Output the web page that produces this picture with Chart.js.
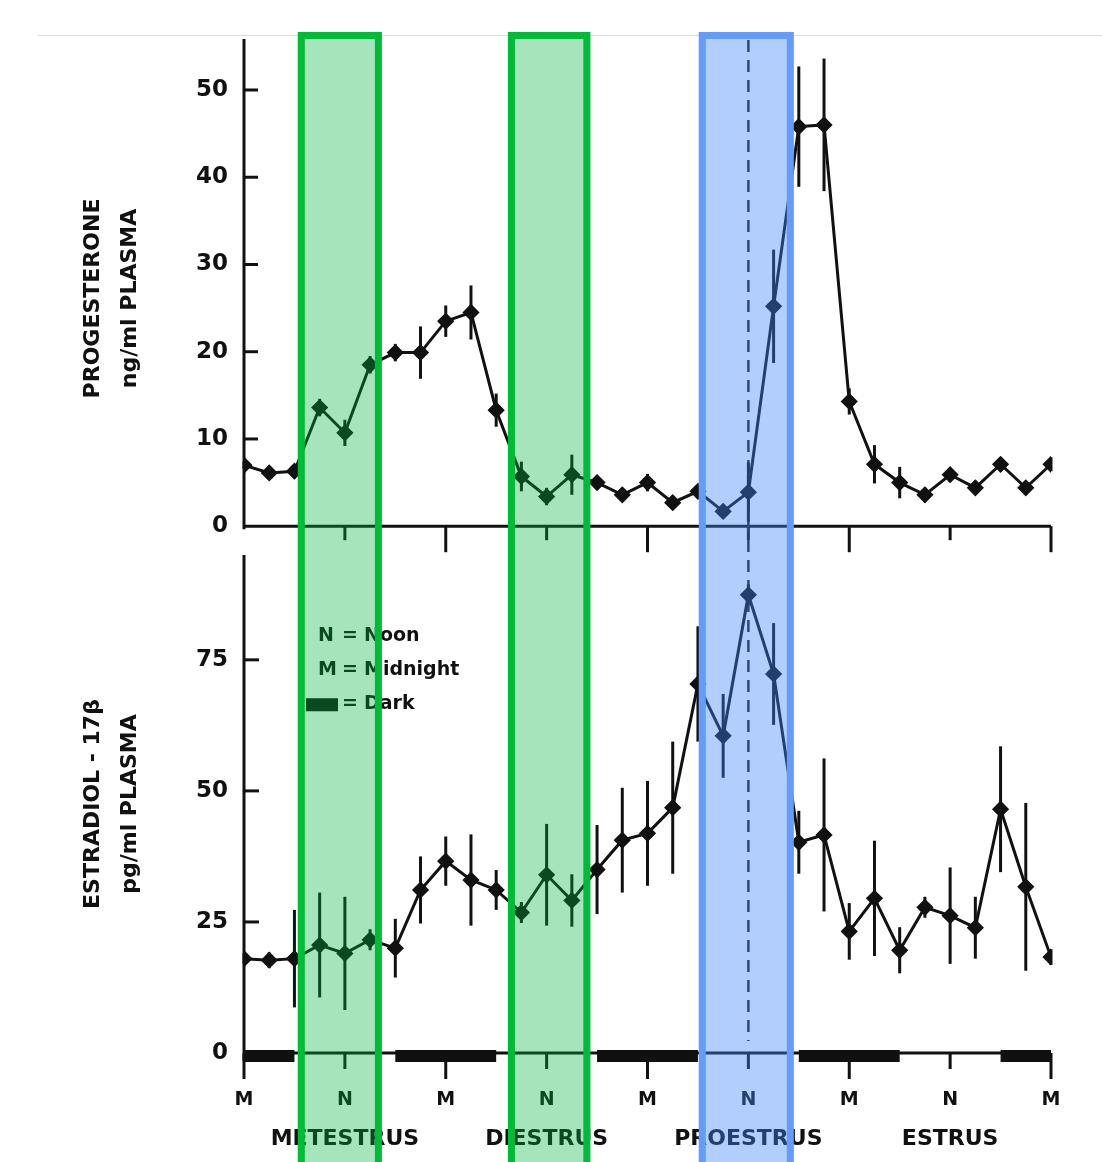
<!DOCTYPE html>
<html lang="en">
<head>
<meta charset="UTF-8">
<title>Progesterone and Estradiol over the estrous cycle</title>
<script src="https://cdn.jsdelivr.net/npm/chart.js"></script>
<style>
  body { margin: 0; background: #fff; }
  canvas { display: block; }
</style>
</head>
<body>
<canvas id="chart" width="1102" height="1162"></canvas>
<script>
// sampling times (hours from the first midnight)
const hours = [0, 3, 6, 9, 12, 15, 18, 21, 24, 27, 30, 33, 36, 39, 42, 45, 48,
               51, 54, 57, 60, 63, 66, 69, 72, 75, 78, 81, 84, 87, 90, 93, 96];

const progesterone = [7.0, 6.1, 6.3, 13.6, 10.7, 18.5, 19.9, 19.9, 23.5, 24.5, 13.3, 5.7, 3.4, 5.9, 5.0, 3.6, 5.0,
                      2.7, 4.0, 1.7, 3.9, 25.2, 45.8, 46.0, 14.3, 7.1, 5.0, 3.6, 5.9, 4.4, 7.1, 4.4, 7.1];
const progesteroneErr = [0.4, 0.5, 0.8, 1.0, 1.5, 1.0, 1.0, 3.0, 1.8, 3.1, 1.9, 1.7, 1.0, 2.3, 0.6, 0.6, 1.0,
                         0.6, 0.6, 0.6, 3.4, 6.5, 6.9, 7.6, 1.5, 2.2, 1.8, 0.8, 0.8, 0.8, 0.8, 0.8, 0.8];

const estradiol = [18.0, 17.7, 18.0, 20.6, 19.0, 21.6, 20.0, 31.1, 36.6, 33.0, 31.1, 26.8, 34.0, 29.1, 35.0, 40.6, 41.9,
                   46.8, 70.4, 60.5, 87.4, 72.3, 40.2, 41.6, 23.2, 29.5, 19.6, 27.8, 26.2, 23.9, 46.5, 31.7, 18.3];
const estradiolErr = [1.0, 1.5, 9.3, 10.0, 10.8, 2.0, 5.6, 6.4, 4.7, 8.7, 3.8, 2.0, 9.7, 5.0, 8.5, 10.0, 10.0,
                      12.6, 11.0, 8.0, 2.0, 9.7, 6.0, 14.6, 5.4, 11.0, 4.4, 2.0, 9.2, 5.9, 12.0, 16.0, 1.5];

const timeTicks = [0, 12, 24, 36, 48, 60, 72, 84, 96];
const timeLabels = ['M', 'N', 'M', 'N', 'M', 'N', 'M', 'N', 'M'];
const phaseCenters = [12, 36, 60, 84];
const phaseNames = ['METESTRUS', 'DIESTRUS', 'PROESTRUS', 'ESTRUS'];
const progTicks = [0, 10, 20, 30, 40, 50];
const estrTicks = [0, 25, 50, 75];

// lights-off periods (hours)
const darkStart = [0, 18, 42, 66, 90];
const darkEnd = [6, 30, 54, 78, 96];

// highlighted windows (hours)
const bandStart = [6.4, 31.4, 54.1];
const bandEnd = [16.4, 41.2, 65.4];
const bandKind = ['green', 'green', 'blue'];

const LH = 60; // proestrus noon marker

const FONT = 'DejaVu Sans, Liberation Sans, sans-serif';
const INK = '#111';

function line(ctx, x1, y1, x2, y2) {
  ctx.beginPath();
  ctx.moveTo(x1, y1);
  ctx.lineTo(x2, y2);
  ctx.stroke();
}

const figurePlugin = {
  id: 'figure',
  beforeDraw(chart) {
    const ctx = chart.ctx;
    ctx.save();
    ctx.strokeStyle = '#dcdcdc';
    ctx.lineWidth = 1;
    line(ctx, 38, 35.5, chart.width, 35.5);
    ctx.restore();
  },
  beforeDatasetsDraw(chart) {
    const { ctx, scales: { x, yP, yE } } = chart;
    const xa = x.getPixelForValue(0), xb = x.getPixelForValue(96);
    const p0 = yP.getPixelForValue(0), e0 = yE.getPixelForValue(0);
    ctx.save();
    ctx.strokeStyle = INK;
    ctx.fillStyle = INK;
    ctx.lineWidth = 3;

    // axes
    line(ctx, xa, yP.top - 3, xa, p0 + 3);
    line(ctx, xa, yE.top, xa, e0 + 8);
    line(ctx, xa, p0, xb, p0);
    line(ctx, xa, e0, xb, e0);

    // time ticks on both panels
    timeTicks.forEach((v, i) => {
      const px = x.getPixelForValue(v);
      const isM = timeLabels[i] === 'M';
      if (i > 0) line(ctx, px, p0, px, p0 + (isM ? 26 : 14));
      line(ctx, px, e0, px, e0 + (isM ? 26 : 16));
    });

    // value ticks (inward)
    progTicks.forEach(v => { if (v > 0) line(ctx, xa, yP.getPixelForValue(v), xa + 14, yP.getPixelForValue(v)); });
    estrTicks.forEach(v => { if (v > 0) line(ctx, xa, yE.getPixelForValue(v), xa + 15, yE.getPixelForValue(v)); });

    // dark bars along the lower time axis
    darkStart.forEach((s, i) => {
      const l = x.getPixelForValue(s), r = x.getPixelForValue(darkEnd[i]);
      ctx.fillRect(l, e0 - 3, r - l, 12);
    });

    // dashed line at proestrus noon
    ctx.save();
    ctx.setLineDash([12, 8]);
    ctx.lineWidth = 2.5;
    ctx.strokeStyle = '#222';
    const lx = x.getPixelForValue(LH);
    line(ctx, lx, yP.top - 2, lx, e0 - 12);
    ctx.restore();

    // error bars
    chart.data.datasets.forEach((ds, di) => {
      const meta = chart.getDatasetMeta(di);
      const sc = chart.scales[ds.yAxisID];
      ds.errors.forEach((err, j) => {
        const px = meta.data[j].x;
        line(ctx, px, sc.getPixelForValue(ds.data[j] + err), px, sc.getPixelForValue(ds.data[j] - err));
      });
    });

    // key
    ctx.font = 'bold 19px ' + FONT;
    ctx.textBaseline = 'middle';
    const ky = yE.getPixelForValue(79.5);
    const kx = xa + 74;
    ctx.textAlign = 'left';
    ctx.fillText('N', kx, ky);
    ctx.fillText('M', kx, ky + 34);
    ctx.fillRect(xa + 62, ky + 62, 32, 13);
    ctx.textAlign = 'center';
    ['=', '=', '='].forEach((t, i) => ctx.fillText(t, kx + 32, ky + 34 * i));
    ctx.textAlign = 'left';
    ctx.fillText('Noon', kx + 46, ky);
    ctx.fillText('Midnight', kx + 46, ky + 34);
    ctx.fillText('Dark', kx + 46, ky + 68);
    ctx.restore();
  },
  afterDraw(chart) {
    const { ctx, scales: { x } } = chart;
    ctx.save();
    bandStart.forEach((s, i) => {
      const l = x.getPixelForValue(s), r = x.getPixelForValue(bandEnd[i]);
      const green = bandKind[i] === 'green';
      ctx.fillStyle = green ? 'rgba(0, 181, 60, 0.35)' : 'rgba(60, 132, 247, 0.4)';
      ctx.fillRect(l, 32, r - l, chart.height);
      ctx.strokeStyle = green ? '#00bb38' : '#659cfb';
      ctx.lineWidth = 7;
      ctx.strokeRect(l + 3.5, 35.5, r - l - 7, chart.height + 20);
    });
    ctx.restore();
  }
};

const tickFont = { family: FONT, size: 23, weight: 'bold' };
const titleFont = { family: FONT, size: 22, weight: 'bold', lineHeight: 37 / 22 };

new Chart(document.getElementById('chart'), {
  type: 'line',
  data: {
    labels: hours,
    datasets: [
      {
        label: 'Progesterone',
        data: progesterone,
        errors: progesteroneErr,
        yAxisID: 'yP',
        borderColor: INK,
        backgroundColor: INK,
        borderWidth: 3,
        pointStyle: 'rectRot',
        pointRadius: 6.5,
        tension: 0
      },
      {
        label: 'Estradiol-17β',
        data: estradiol,
        errors: estradiolErr,
        yAxisID: 'yE',
        borderColor: INK,
        backgroundColor: INK,
        borderWidth: 3,
        pointStyle: 'rectRot',
        pointRadius: 6.5,
        tension: 0
      }
    ]
  },
  options: {
    responsive: false,
    animation: false,
    layout: { padding: { top: 42, right: 51, left: 0, bottom: 0 } },
    plugins: { legend: { display: false }, tooltip: { enabled: false } },
    scales: {
      x: {
        type: 'linear', position: 'bottom', min: 0, max: 96,
        grid: { display: false }, border: { display: false },
        afterBuildTicks: s => { s.ticks = timeTicks.map(v => ({ value: v })); },
        ticks: {
          autoSkip: false, maxRotation: 0, padding: 28, color: INK,
          font: { family: FONT, size: 19, weight: 'bold' },
          callback: (v, i) => timeLabels[i]
        },
        afterFit: s => { s.height = 57; }
      },
      x2: {
        type: 'linear', position: 'bottom', min: 0, max: 96,
        grid: { display: false }, border: { display: false },
        afterBuildTicks: s => { s.ticks = phaseCenters.map(v => ({ value: v })); },
        ticks: {
          autoSkip: false, maxRotation: 0, padding: 8, color: INK,
          font: { family: FONT, size: 22, weight: 'bold' },
          callback: (v, i) => phaseNames[i]
        },
        afterFit: s => { s.height = 52; }
      },
      yE: {
        type: 'linear', position: 'left', stack: 'panels', stackWeight: 498,
        min: 0, max: 95,
        grid: { display: false }, border: { display: false },
        afterBuildTicks: s => { s.ticks = estrTicks.map(v => ({ value: v })); },
        ticks: { padding: 8, color: INK, font: tickFont },
        title: {
          display: true, text: ['ESTRADIOL - 17β', 'pg/ml PLASMA'], color: INK,
          font: titleFont, padding: { top: 74.5, bottom: 0 }
        },
        afterFit: s => { s.width = 244; }
      },
      yP: {
        type: 'linear', position: 'left', stack: 'panels', stackWeight: 513,
        min: -3.3, max: 55.5,
        grid: { display: false }, border: { display: false },
        afterBuildTicks: s => { s.ticks = progTicks.map(v => ({ value: v })); },
        ticks: { padding: 8, color: INK, font: tickFont },
        title: {
          display: true, text: ['PROGESTERONE', 'ng/ml PLASMA'], color: INK,
          font: titleFont, padding: { top: 74.5, bottom: 0 }
        },
        afterFit: s => { s.width = 244; }
      }
    }
  },
  plugins: [figurePlugin]
});
</script>
</body>
</html>
